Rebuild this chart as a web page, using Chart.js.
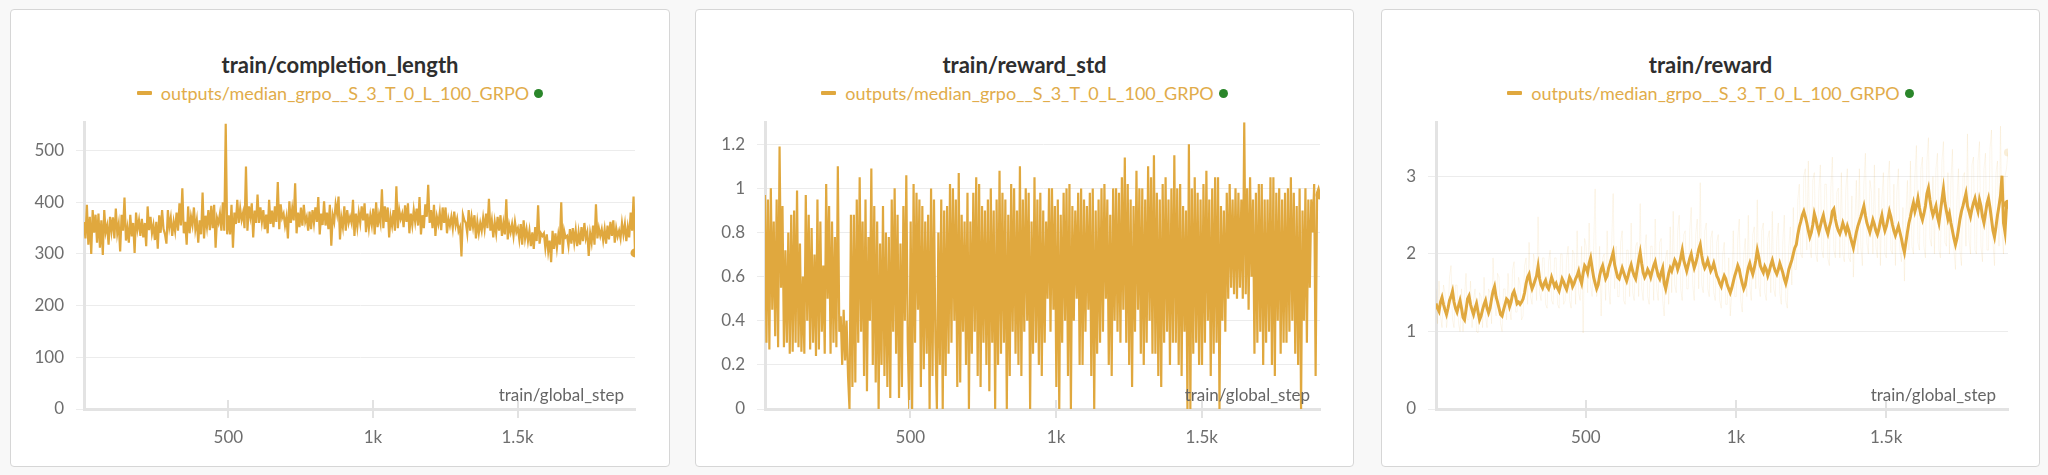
<!DOCTYPE html>
<html>
<head>
<meta charset="utf-8">
<script src="https://cdn.jsdelivr.net/npm/chart.js@4.4.1/dist/chart.umd.min.js"></script>
<style>
  html,body{margin:0;padding:0;background:#f8f8f8;width:2048px;height:475px;overflow:hidden;font-family:Lato,"Noto Sans",sans-serif;}
  .panel{position:absolute;top:9px;height:458px;background:#fff;border:1px solid #d6d6d6;border-radius:4px;box-sizing:border-box;}
  .title{position:absolute;top:42px;left:0;width:100%;text-align:center;font-weight:700;font-size:22px;line-height:26px;color:#2e2e2e;}
  .legend{position:absolute;top:73px;left:0;width:100%;height:20px;display:flex;justify-content:center;align-items:center;font-size:18px;color:#e1ac4a;}
  .dash{width:15px;height:4px;background:#e0a83e;margin-right:9px;border-radius:1px;}
  .dot{width:9px;height:9px;border-radius:50%;background:#2a862a;margin-left:5px;}
  canvas{position:absolute;top:100px;}
  .xt{position:absolute;top:384px;height:22px;line-height:22px;text-align:right;font-size:17px;color:#666;z-index:5;}
</style>
</head>
<body>
<div class="panel" style="left:10px;width:660px;">
  <div class="title">train/completion_length</div>
  <div class="legend"><span class="dash"></span><span class="lt">outputs/median_grpo__S_3_T_0_L_100_GRPO</span><span class="dot"></span></div>
</div>
<div class="panel" style="left:695px;width:659px;">
  <div class="title">train/reward_std</div>
  <div class="legend"><span class="dash"></span><span class="lt">outputs/median_grpo__S_3_T_0_L_100_GRPO</span><span class="dot"></span></div>
</div>
<div class="panel" style="left:1381px;width:659px;">
  <div class="title">train/reward</div>
  <div class="legend"><span class="dash"></span><span class="lt">outputs/median_grpo__S_3_T_0_L_100_GRPO</span><span class="dot"></span></div>
</div>
<canvas id="c1" width="660" height="365" style="left:10px;"></canvas>
<canvas id="c2" width="659" height="365" style="left:695px;"></canvas>
<canvas id="c3" width="659" height="365" style="left:1381px;"></canvas>
<div class="xt" style="left:10px;width:614px;">train/global_step</div>
<div class="xt" style="left:695px;width:615px;">train/global_step</div>
<div class="xt" style="left:1381px;width:615px;">train/global_step</div>

<script>
const steps = [
1,6,11,16,21,26,31,36,41,46,51,56,61,66,71,76,81,86,91,96,
101,106,111,116,121,126,131,136,141,146,151,156,161,166,171,176,181,186,191,196,
201,206,211,216,221,226,231,236,241,246,251,256,261,266,271,276,281,286,291,296,
301,306,311,316,321,326,331,336,341,346,351,356,361,366,371,376,381,386,391,396,
401,406,411,416,421,426,431,436,441,446,451,456,461,466,471,476,481,486,491,496,
501,506,511,516,521,526,531,536,541,546,551,556,561,566,571,576,581,586,591,596,
601,606,611,616,621,626,631,636,641,646,651,656,661,666,671,676,681,686,691,696,
701,706,711,716,721,726,731,736,741,746,751,756,761,766,771,776,781,786,791,796,
801,806,811,816,821,826,831,836,841,846,851,856,861,866,871,876,881,886,891,896,
901,906,911,916,921,926,931,936,941,946,951,956,961,966,971,976,981,986,991,996,
1001,1006,1011,1016,1021,1026,1031,1036,1041,1046,1051,1056,1061,1066,1071,1076,1081,1086,1091,1096,
1101,1106,1111,1116,1121,1126,1131,1136,1141,1146,1151,1156,1161,1166,1171,1176,1181,1186,1191,1196,
1201,1206,1211,1216,1221,1226,1231,1236,1241,1246,1251,1256,1261,1266,1271,1276,1281,1286,1291,1296,
1301,1306,1311,1316,1321,1326,1331,1336,1341,1346,1351,1356,1361,1366,1371,1376,1381,1386,1391,1396,
1401,1406,1411,1416,1421,1426,1431,1436,1441,1446,1451,1456,1461,1466,1471,1476,1481,1486,1491,1496,
1501,1506,1511,1516,1521,1526,1531,1536,1541,1546,1551,1556,1561,1566,1571,1576,1581,1586,1591,1596,
1601,1606,1611,1616,1621,1626,1631,1636,1641,1646,1651,1656,1661,1666,1671,1676,1681,1686,1691,1696,
1701,1706,1711,1716,1721,1726,1731,1736,1741,1746,1751,1756,1761,1766,1771,1776,1781,1786,1791,1796,
1801,1806,1811,1816,1821,1826,1831,1836,1841,1846,1851,1856,1861,1866,1871,1876,1881,1886,1891,1896,
1901,1906];

const completionLength = [
362,330,395,318,372,300,385,341,376,322,378,312,365,298,385,342,355,318,372,344,
371,330,388,340,358,305,376,345,409,326,350,322,376,334,360,302,380,348,365,335,
368,332,360,315,392,346,372,340,356,327,362,310,375,341,385,348,338,320,385,352,
370,335,362,344,380,345,398,355,427,340,362,318,392,340,372,356,390,348,366,322,
365,338,419,330,374,352,385,346,393,350,395,312,370,360,378,345,400,345,552,338,
375,338,395,312,380,358,405,360,388,366,380,350,469,345,392,372,398,332,384,360,
415,360,390,362,385,348,376,340,405,358,384,352,392,362,439,348,396,370,378,355,
372,330,402,360,388,365,437,340,380,352,390,355,395,362,372,345,382,348,385,360,
390,362,410,338,378,356,402,355,380,348,395,316,375,362,396,378,411,328,370,352,
392,345,385,360,372,360,405,335,378,352,380,360,392,365,398,342,378,350,375,356,
388,338,400,352,376,360,425,350,392,362,390,332,372,355,385,345,431,350,385,368,
378,352,394,362,398,340,378,356,385,362,388,355,410,338,375,350,396,372,434,360,
385,350,395,335,372,358,380,346,390,360,390,340,368,355,372,350,382,355,368,344,
352,295,376,365,360,340,385,345,372,352,375,330,362,340,360,345,370,348,378,350,
407,345,365,332,362,340,372,345,375,335,360,338,406,328,356,342,358,335,362,342,
350,328,358,318,365,330,348,325,345,315,342,310,352,325,394,320,340,335,340,312,
338,305,326,284,345,310,340,312,338,318,400,300,345,332,335,316,348,320,350,322,
346,315,342,318,352,325,360,330,342,296,340,322,355,318,396,330,350,335,348,326,
348,320,355,328,362,335,365,322,350,334,345,330,360,338,358,325,352,332,380,345,
411,302];

const rewardStd = [
0.97,0.30,0.95,0.27,1.0,0.45,0.85,0.33,0.95,0.28,1.19,0.55,0.92,0.28,0.72,0.30,0.80,0.25,0.88,0.26,
0.90,0.30,0.99,0.28,0.75,0.26,0.60,0.25,0.97,0.40,0.88,0.27,0.82,0.30,0.70,0.24,0.95,0.27,0.85,0.35,
0.65,0.25,1.02,0.50,0.92,0.25,0.85,0.30,0.78,0.28,1.10,0.35,0.42,0.20,0.45,0.22,0.40,0.15,0.0,0.88,
0.10,0.88,0.12,0.95,0.30,1.05,0.35,0.85,0.15,0.95,0.08,0.78,0.40,1.09,0.20,0.92,0.12,0.85,0.0,0.75,
0.20,0.92,0.15,0.80,0.10,0.78,0.05,0.95,0.35,1.0,0.25,0.88,0.05,0.75,0.10,0.92,0.40,1.06,0.30,0.0,
0.85,0.0,1.02,0.30,0.98,0.45,0.95,0.10,0.92,0.18,0.85,0.25,0.88,0.0,1.0,0.15,0.95,0.30,0.0,0.80,
0.20,0.95,0.0,0.90,0.15,0.92,0.25,1.02,0.30,1.0,0.40,0.95,0.10,1.07,0.12,0.88,0.35,0.85,0.20,0.98,
0.0,0.85,0.25,0.98,0.35,1.05,0.15,1.02,0.10,0.92,0.30,0.90,0.20,0.95,0.08,1.0,0.30,0.90,0.0,0.95,
0.20,1.08,0.25,0.98,0.30,0.95,0.0,0.88,0.15,1.02,0.35,1.0,0.25,0.90,0.20,1.10,0.15,0.95,0.35,1.0,
0.40,0.98,0.0,0.85,0.25,1.05,0.30,0.95,0.20,0.98,0.15,0.90,0.30,0.85,0.50,1.0,0.35,1.0,0.45,0.92,
0.10,0.95,0.0,0.88,0.30,0.98,0.40,1.0,0.15,1.02,0.0,0.92,0.40,0.90,0.50,0.98,0.20,1.0,0.20,0.95,
0.35,0.92,0.45,0.98,0.15,1.0,0.0,0.90,0.25,0.95,0.30,1.0,0.35,1.02,0.50,0.95,0.20,0.88,0.15,1.0,
0.40,1.0,0.35,0.98,0.30,1.05,0.45,1.14,0.30,1.02,0.20,0.95,0.10,0.92,0.35,1.08,0.45,1.0,0.25,1.0,
0.20,0.95,0.30,1.10,0.40,1.05,0.25,1.15,0.25,0.98,0.15,0.95,0.10,1.02,0.30,1.05,0.35,0.95,0.20,1.0,
0.30,1.15,0.30,1.0,0.20,1.02,0.15,0.92,0.35,0.90,0.0,1.20,0.0,1.0,0.25,1.05,0.30,0.98,0.20,0.95,
0.20,1.02,0.30,1.08,0.40,0.95,0.15,1.0,0.25,1.05,0.30,1.05,0.0,0.92,0.40,0.90,0.35,0.98,0.50,1.02,
0.55,0.95,0.52,1.0,0.50,0.98,0.55,0.95,0.50,1.30,0.52,1.0,0.45,1.05,0.60,0.95,0.25,0.98,0.30,1.02,
0.35,1.02,0.20,0.95,0.30,0.95,0.35,1.05,0.20,1.05,0.15,0.98,0.40,1.0,0.25,0.95,0.30,0.98,0.30,1.0,
0.35,1.05,0.40,0.98,0.25,0.92,0.20,1.0,0.0,0.90,0.40,1.0,0.30,0.95,0.55,0.95,0.80,1.02,0.15,0.98,
1.0,0.97];

const rewardSmoothed = [
1.36,1.30,1.26,1.38,1.44,1.35,1.28,1.22,1.30,1.40,1.45,1.52,1.38,1.30,1.25,1.33,1.40,1.30,1.18,1.15,
1.28,1.42,1.46,1.35,1.28,1.22,1.30,1.36,1.25,1.15,1.20,1.28,1.35,1.40,1.30,1.24,1.30,1.42,1.52,1.58,
1.45,1.38,1.30,1.22,1.20,1.28,1.35,1.42,1.40,1.32,1.38,1.48,1.52,1.45,1.36,1.38,1.35,1.38,1.42,1.50,
1.62,1.70,1.74,1.62,1.55,1.60,1.66,1.72,1.84,1.68,1.60,1.56,1.62,1.66,1.58,1.55,1.62,1.70,1.64,1.58,
1.62,1.56,1.52,1.60,1.68,1.64,1.58,1.54,1.62,1.70,1.66,1.58,1.62,1.68,1.72,1.78,1.68,1.62,1.75,1.85,
1.82,1.76,1.88,1.95,1.82,1.70,1.62,1.55,1.60,1.72,1.80,1.85,1.76,1.68,1.72,1.82,1.88,1.95,2.02,1.86,
1.78,1.70,1.68,1.75,1.82,1.76,1.70,1.65,1.72,1.80,1.86,1.78,1.72,1.68,1.80,1.92,2.02,1.88,1.76,1.70,
1.74,1.80,1.76,1.70,1.78,1.85,1.90,1.80,1.72,1.68,1.76,1.82,1.62,1.55,1.65,1.75,1.82,1.78,1.85,1.92,
1.88,1.80,1.86,1.95,2.05,1.92,1.85,1.78,1.86,1.94,2.00,1.90,1.82,1.88,1.96,2.06,2.12,1.98,1.88,1.82,
1.86,1.92,1.85,1.78,1.82,1.88,1.80,1.72,1.68,1.62,1.58,1.66,1.72,1.68,1.60,1.55,1.50,1.56,1.64,1.72,
1.78,1.85,1.80,1.70,1.62,1.55,1.60,1.72,1.82,1.88,1.80,1.74,1.82,1.92,2.05,1.96,1.85,1.80,1.76,1.84,
1.80,1.72,1.78,1.86,1.92,1.84,1.78,1.74,1.80,1.88,1.82,1.76,1.68,1.62,1.70,1.80,1.86,1.92,2.00,2.08,
2.12,2.25,2.35,2.42,2.50,2.55,2.48,2.40,2.30,2.22,2.28,2.38,2.52,2.45,2.35,2.28,2.36,2.44,2.50,2.40,
2.32,2.26,2.35,2.42,2.55,2.58,2.45,2.36,2.30,2.26,2.32,2.40,2.34,2.28,2.36,2.30,2.22,2.15,2.08,2.18,
2.28,2.36,2.42,2.48,2.55,2.62,2.50,2.40,2.34,2.28,2.36,2.44,2.38,2.30,2.25,2.32,2.42,2.50,2.38,2.30,
2.36,2.45,2.55,2.48,2.38,2.30,2.24,2.30,2.36,2.28,2.20,2.10,2.02,2.15,2.28,2.40,2.48,2.58,2.66,2.55,
2.62,2.72,2.60,2.50,2.44,2.52,2.62,2.78,2.85,2.70,2.58,2.50,2.56,2.62,2.48,2.40,2.55,2.70,2.84,2.66,
2.55,2.45,2.52,2.40,2.30,2.20,2.12,2.20,2.32,2.45,2.55,2.62,2.70,2.78,2.62,2.55,2.48,2.58,2.66,2.72,
2.62,2.55,2.70,2.62,2.48,2.40,2.52,2.65,2.72,2.60,2.45,2.30,2.22,2.35,2.50,2.62,2.75,3.01,2.40,2.28,
2.62,2.64];

const rewardRaw = [
1.55,1.10,1.65,1.20,1.05,1.60,1.50,1.05,1.20,1.70,1.85,1.15,1.05,1.60,1.60,1.10,1.00,1.55,1.00,1.45,
1.75,1.15,1.15,1.65,1.05,1.40,1.55,1.00,0.98,1.50,1.45,1.05,1.70,1.20,1.05,1.55,1.50,1.10,1.95,1.40,
1.20,1.75,1.70,1.10,1.00,1.55,1.55,1.15,1.75,1.30,1.15,1.80,1.90,1.25,1.25,1.70,1.60,1.15,1.20,1.85,
1.95,1.35,2.15,1.45,1.35,2.00,1.90,1.40,2.48,1.50,1.40,1.95,1.95,1.35,1.30,1.90,2.05,1.40,1.35,1.95,
1.95,1.35,1.30,2.00,2.00,1.35,1.40,1.95,2.10,1.40,1.30,2.05,2.00,1.35,2.30,1.50,1.40,2.10,0.98,2.20,
2.10,1.50,2.40,1.60,1.45,2.05,2.84,1.45,1.55,2.10,1.20,1.95,2.00,1.40,2.30,1.55,1.35,2.10,2.78,1.55,
2.10,1.45,1.45,2.15,2.30,1.40,1.35,2.05,2.05,1.45,2.40,1.50,1.40,2.10,2.15,1.45,2.65,1.55,1.40,2.05,
2.25,1.45,1.35,2.10,2.10,1.40,2.45,1.55,1.40,2.15,2.20,1.40,1.20,1.95,2.05,1.35,2.35,1.50,2.55,1.60,
1.50,2.30,2.50,1.55,1.40,2.25,2.30,1.55,1.55,2.30,2.60,1.60,1.40,2.25,2.45,1.55,2.92,1.60,1.50,2.30,
2.40,1.55,1.45,2.20,2.30,1.50,1.40,2.15,2.25,1.40,1.30,2.00,2.15,1.35,1.35,1.95,1.20,1.50,2.30,1.45,
1.45,2.20,2.45,1.40,1.25,2.00,2.20,1.45,2.50,1.60,1.40,2.25,2.35,1.55,2.70,1.60,1.45,2.30,2.40,1.50,
1.40,2.20,2.30,1.50,2.55,1.55,1.45,2.20,2.40,1.50,1.35,2.15,2.50,1.40,1.30,2.10,2.35,1.60,2.60,1.80,
1.80,2.70,2.90,2.00,1.95,3.00,3.10,2.05,3.20,2.10,1.95,2.95,3.05,2.00,1.90,2.80,3.15,2.05,1.95,2.90,
2.90,1.95,1.85,2.85,3.25,2.05,1.95,2.80,2.85,1.95,3.05,2.00,1.90,2.85,3.10,1.95,1.90,2.75,1.70,2.40,
2.95,2.00,3.10,2.10,1.85,2.90,3.30,2.15,2.00,2.95,2.80,2.00,3.15,2.10,1.95,2.85,1.85,2.70,3.05,2.00,
1.95,2.95,3.20,2.05,2.00,2.90,1.85,2.80,3.10,2.05,1.90,2.60,1.65,2.50,2.95,2.05,3.20,2.10,2.00,3.00,
3.40,2.15,2.05,3.10,3.25,2.10,1.95,3.20,3.50,2.20,2.10,3.00,2.00,3.10,3.30,2.05,1.95,3.20,3.45,2.15,
2.10,3.05,2.00,2.95,3.35,2.05,1.80,2.70,3.10,2.05,1.85,3.00,3.05,2.10,3.55,2.20,2.00,3.15,3.25,2.05,
2.00,3.20,3.45,2.10,1.90,3.10,3.30,2.05,2.05,3.35,3.60,2.15,1.85,3.05,3.20,2.10,3.65,2.30,2.00,3.00,
3.10,3.31];

const xTicks = [500, 1000, 1500];
const xTickLabels = ['500', '1k', '1.5k'];
const completionYTicks = [0, 100, 200, 300, 400, 500];
const stdYTicks = [0, 0.2, 0.4, 0.6, 0.8, 1, 1.2];
const rewardYTicks = [0, 1, 2, 3];

const LINE = '#e0a83e';
const FAINT = 'rgba(224,168,62,0.10)';
const TICKFONT = {family: 'Lato, "Noto Sans", sans-serif', size: 17};

const xTickMarks = {
  id: 'xTickMarks',
  afterDraw(chart) {
    const sx = chart.scales.x, ctx = chart.ctx, b = chart.chartArea.bottom;
    ctx.save();
    ctx.strokeStyle = '#e2e2e2';
    ctx.lineWidth = 2;
    xTicks.forEach(v => {
      const px = Math.round(sx.getPixelForValue(v));
      ctx.beginPath(); ctx.moveTo(px, b - 9); ctx.lineTo(px, b + 9); ctx.stroke();
    });
    ctx.restore();
  }
};

function pts(vals) { return steps.map((s, i) => ({x: s, y: vals[i]})); }
function lastDot(n, r) { return steps.map((s, i) => i === n - 1 ? r : 0); }

function makeChart(id, datasets, yMax, yTicks, yAxisW, rightPad) {
  return new Chart(document.getElementById(id), {
    type: 'line',
    data: {datasets},
    options: {
      responsive: false,
      animation: false,
      events: [],
      layout: {padding: {top: 17, right: rightPad, left: 0, bottom: 0}},
      plugins: {legend: {display: false}, tooltip: {enabled: false}, title: {display: false}},
      elements: {line: {tension: 0}},
      scales: {
        x: {
          type: 'linear', min: 1, max: 1906,
          afterBuildTicks: s => { s.ticks = xTicks.map(v => ({value: v})); },
          afterFit: s => { s.height = 56; },
          grid: {display: false, drawTicks: true, tickLength: 9},
          border: {display: true, color: '#e3e3e3', width: 3},
          ticks: {color: '#6e6e6e', font: TICKFONT, padding: 9, maxRotation: 0,
                  callback: v => xTickLabels[xTicks.indexOf(v)]}
        },
        y: {
          min: 0, max: yMax,
          afterBuildTicks: s => { s.ticks = yTicks.map(v => ({value: v})); },
          afterFit: s => { s.width = yAxisW; },
          grid: {color: '#ececec', lineWidth: 1, drawTicks: true, tickLength: 8},
          border: {display: true, color: '#e3e3e3', width: 3},
          ticks: {color: '#6e6e6e', font: TICKFONT, padding: 12,
                  callback: v => String(Number(v.toFixed(2)))}
        }
      }
    },
    plugins: [xTickMarks]
  });
}

const n = steps.length;
makeChart('c1', [{
  data: pts(completionLength), borderColor: LINE, backgroundColor: LINE, borderWidth: 2.2,
  pointRadius: lastDot(n, 4.5), pointBorderWidth: 0
}], 555, completionYTicks, 74, 35);

makeChart('c2', [{
  data: pts(rewardStd), borderColor: LINE, backgroundColor: LINE, borderWidth: 2.2,
  pointRadius: lastDot(n, 4.5), pointBorderWidth: 0
}], 1.3, stdYTicks, 70, 34);

makeChart('c3', [{
  data: pts(rewardSmoothed), borderColor: LINE, backgroundColor: LINE, borderWidth: 3,
  pointRadius: lastDot(n, 4.5), pointBorderWidth: 0, order: 1
}, {
  data: pts(rewardRaw), borderColor: FAINT, backgroundColor: 'rgba(224,168,62,0.2)', borderWidth: 1,
  pointRadius: lastDot(n, 4), pointBorderWidth: 0, order: 2
}], 3.7, rewardYTicks, 55, 32);
</script>
</body>
</html>
